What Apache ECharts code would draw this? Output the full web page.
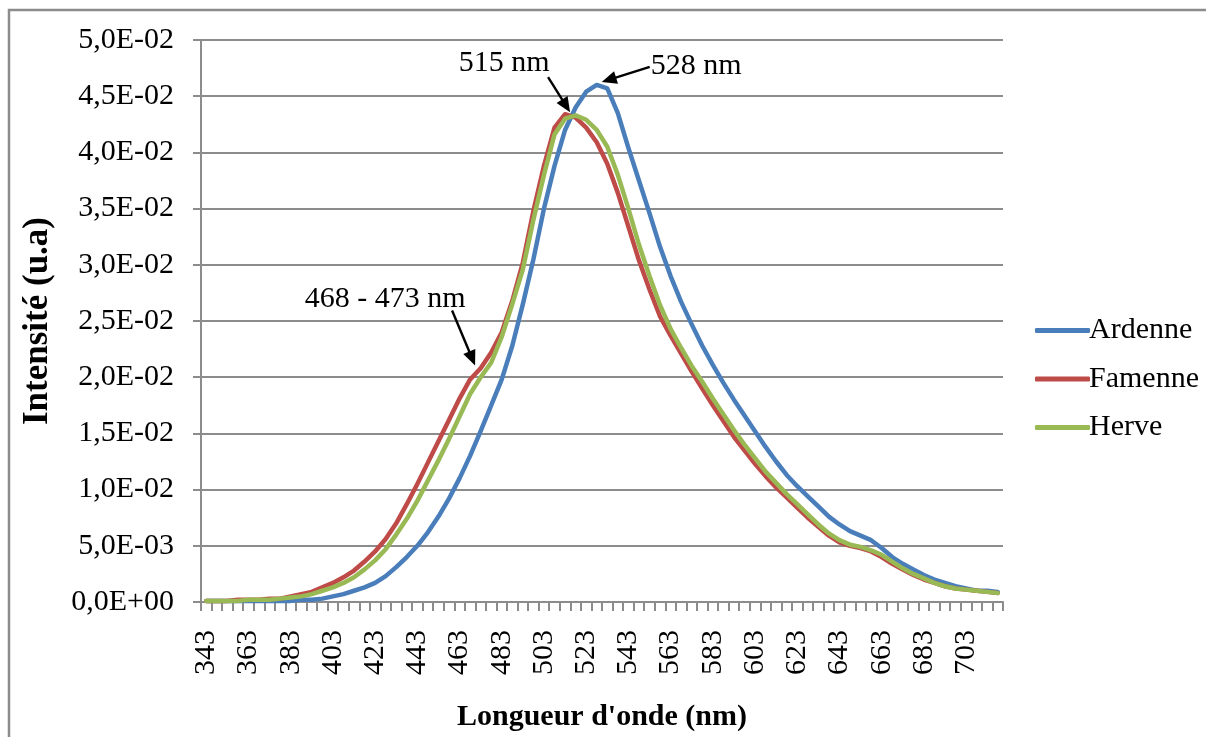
<!DOCTYPE html>
<html>
<head>
<meta charset="utf-8">
<script src="https://cdn.jsdelivr.net/npm/echarts@6/dist/echarts.min.js"></script>
<style>
  html, body { margin: 0; padding: 0; background: #fff; overflow: hidden; }
  #chart { width: 1206px; height: 737px; }
</style>
</head>
<body>
<div id="chart"></div>
<script>
// Wavelengths (nm), one category every 5 nm
const wavelengths = [
  343, 348, 353, 358, 363, 368, 373, 378, 383, 388,
  393, 398, 403, 408, 413, 418, 423, 428, 433, 438,
  443, 448, 453, 458, 463, 468, 473, 478, 483, 488,
  493, 498, 503, 508, 513, 518, 523, 528, 533, 538,
  543, 548, 553, 558, 563, 568, 573, 578, 583, 588,
  593, 598, 603, 608, 613, 618, 623, 628, 633, 638,
  643, 648, 653, 658, 663, 668, 673, 678, 683, 688,
  693, 698, 703, 708, 713, 718
];

const ardenne = [
  0.0001, 0.0001, 0.0001, 0.0001, 0.0001, 0.0001, 0.0001, 0.0001, 0.0001, 0.0002,
  0.0002, 0.0003, 0.0005, 0.0007, 0.0010, 0.0013, 0.0017, 0.0023, 0.0031, 0.0040,
  0.0050, 0.0062, 0.0076, 0.0092, 0.0110, 0.0130, 0.0152, 0.0175, 0.0198, 0.0228,
  0.0265, 0.0305, 0.0350, 0.0388, 0.0420, 0.0440, 0.0454, 0.0460, 0.0457, 0.0435,
  0.0404, 0.0375, 0.0346, 0.0316, 0.0290, 0.0267, 0.0247, 0.0228, 0.0211, 0.0195,
  0.0180, 0.0166, 0.0152, 0.0138, 0.0125, 0.0113, 0.0103, 0.0094, 0.0085, 0.0076,
  0.0069, 0.0063, 0.0059, 0.0055, 0.0048, 0.0040, 0.0034, 0.0029, 0.0024, 0.0020,
  0.0017, 0.0014, 0.0012, 0.0010, 0.0010, 0.0009
];

const famenne = [
  0.0001, 0.0001, 0.0001, 0.0002, 0.0002, 0.0002, 0.0003, 0.0003, 0.0005, 0.0007,
  0.0009, 0.0013, 0.0017, 0.0022, 0.0028, 0.0036, 0.0045, 0.0056, 0.0070, 0.0087,
  0.0105, 0.0124, 0.0143, 0.0162, 0.0181, 0.0198, 0.0208, 0.0222, 0.0240, 0.0268,
  0.0302, 0.0348, 0.0388, 0.0422, 0.0434, 0.0431, 0.0422, 0.0409, 0.0390, 0.0364,
  0.0334, 0.0304, 0.0278, 0.0254, 0.0237, 0.0221, 0.0205, 0.0190, 0.0175, 0.0161,
  0.0147, 0.0135, 0.0123, 0.0112, 0.0102, 0.0093, 0.0084, 0.0075, 0.0067, 0.0059,
  0.0053, 0.0050, 0.0048, 0.0045, 0.0040, 0.0034, 0.0029, 0.0024, 0.0020, 0.0017,
  0.0014, 0.0012, 0.0011, 0.0010, 0.0009, 0.0008
];

const herve = [
  0.0001, 0.0001, 0.0001, 0.0001, 0.0002, 0.0002, 0.0002, 0.0003, 0.0004, 0.0005,
  0.0007, 0.0010, 0.0013, 0.0017, 0.0022, 0.0029, 0.0037, 0.0047, 0.0060, 0.0074,
  0.0090, 0.0108, 0.0126, 0.0145, 0.0165, 0.0185, 0.0200, 0.0213, 0.0236, 0.0265,
  0.0296, 0.0340, 0.0380, 0.0416, 0.0430, 0.0433, 0.0429, 0.0420, 0.0405, 0.0380,
  0.0350, 0.0318, 0.0290, 0.0264, 0.0243, 0.0226, 0.0210, 0.0196, 0.0181, 0.0167,
  0.0153, 0.0140, 0.0128, 0.0116, 0.0106, 0.0096, 0.0087, 0.0078, 0.0069, 0.0061,
  0.0055, 0.0051, 0.0049, 0.0046, 0.0042, 0.0036, 0.0030, 0.0025, 0.0021, 0.0017,
  0.0014, 0.0012, 0.0011, 0.0010, 0.0009, 0.0008
];

const seriesNames = ['Ardenne', 'Famenne', 'Herve'];
const seriesColors = ['#4A7EBB', '#BE4B48', '#98B954'];
const seriesData = [ardenne, famenne, herve];

// Peak annotations: text, series index, category, text offset and arrow tail offset
const annotations = [
  { text: '528 nm', series: 0, category: 528, textAt: [54, -19], tail: [48, -15], tipShift: [5, -3], align: 'left' },
  { text: '515 nm', series: 1, category: 513, textAt: [-61, -51], tail: [-22, -35], tipShift: [5, -2], align: 'center' },
  { text: '468 - 473 nm', series: 1, category: 468, textAt: [-85, -80], tail: [-23, -55], tipShift: [5, -14], align: 'center' }
];

const FONT = '"Liberation Serif", "Times New Roman", serif';

// Scientific notation with a decimal comma: 4,5E-02
function sciComma(v) {
  if (v === 0) return '0,0E+00';
  let e = Math.floor(Math.log10(Math.abs(v)) + 1e-9);
  let m = v / Math.pow(10, e);
  if (Math.round(m * 10) / 10 >= 10) { m /= 10; e += 1; }
  const sign = e < 0 ? '-' : '+';
  const ex = String(Math.abs(e)).padStart(2, '0');
  return m.toFixed(1).replace('.', ',') + 'E' + sign + ex;
}

const chart = echarts.init(document.getElementById('chart'), null, { renderer: 'canvas' });

const option = {
  backgroundColor: '#ffffff',
  animation: false,
  grid: { left: 201, right: 203, top: 40, bottom: 130, containLabel: false },
  legend: {
    orient: 'vertical',
    left: 1030,
    top: 310,
    icon: 'roundRect',
    itemWidth: 55,
    itemHeight: 5,
    itemGap: 17.5,
    data: seriesNames,
    textStyle: { fontFamily: FONT, fontSize: 30, color: '#000', lineHeight: 31, padding: [0, 0, 0, -6] }
  },
  xAxis: {
    type: 'category',
    data: wavelengths.map(String),
    boundaryGap: true,
    name: "Longueur d'onde (nm)",
    nameLocation: 'middle',
    nameGap: 100,
    nameTextStyle: { fontFamily: FONT, fontSize: 30, fontWeight: 'bold', color: '#000' },
    axisLine: { lineStyle: { color: '#8c8c8c', width: 2 } },
    axisTick: { show: true, interval: 0, length: 9, lineStyle: { color: '#8c8c8c', width: 2 } },
    axisLabel: { interval: 3, rotate: 90, margin: 28, fontFamily: FONT, fontSize: 30, color: '#000' },
    splitLine: { show: false }
  },
  yAxis: {
    type: 'value',
    min: 0,
    max: 0.05,
    interval: 0.005,
    name: 'Intensité (u.a)',
    nameLocation: 'middle',
    nameGap: 146,
    nameRotate: 90,
    nameTextStyle: { fontFamily: FONT, fontSize: 35, fontWeight: 'bold', color: '#000' },
    axisLine: { show: true, lineStyle: { color: '#8c8c8c', width: 2 } },
    axisTick: { show: true, length: 8, lineStyle: { color: '#8c8c8c', width: 2 } },
    axisLabel: { margin: 27, fontFamily: FONT, fontSize: 30, color: '#000', formatter: sciComma },
    splitLine: { show: true, lineStyle: { color: '#8c8c8c', width: 2 } }
  },
  series: seriesNames.map((name, i) => ({
    name: name,
    type: 'line',
    data: seriesData[i],
    symbol: 'none',
    smooth: false,
    color: seriesColors[i],
    lineStyle: { color: seriesColors[i], width: 4.5, cap: 'round', join: 'round' },
    z: 2 + i
  }))
};

chart.setOption(option);

// Frame around the chart area
const graphics = [
  { type: 'rect', shape: { x: 9, y: 10, width: 1230, height: 760 }, style: { fill: null, stroke: '#8c8c8c', lineWidth: 2.5 }, z: 0, silent: true }
];

function arrowShapes(tail, tip) {
  const dx = tip[0] - tail[0], dy = tip[1] - tail[1];
  const len = Math.hypot(dx, dy);
  const ux = dx / len, uy = dy / len;
  const headL = 15, headW = 6.5;
  const base = [tip[0] - ux * headL, tip[1] - uy * headL];
  const p1 = [base[0] - uy * headW, base[1] + ux * headW];
  const p2 = [base[0] + uy * headW, base[1] - ux * headW];
  return [
    { type: 'line', shape: { x1: tail[0], y1: tail[1], x2: base[0] + ux * 2, y2: base[1] + uy * 2 }, style: { stroke: '#000', lineWidth: 2.4 }, z: 100, silent: true },
    { type: 'polygon', shape: { points: [tip, p1, p2] }, style: { fill: '#000' }, z: 100, silent: true }
  ];
}

annotations.forEach(a => {
  const idx = wavelengths.indexOf(a.category);
  const value = seriesData[a.series][idx];
  const p = chart.convertToPixel({ xAxisIndex: 0, yAxisIndex: 0 }, [String(a.category), value]);
  const tip = [p[0] + a.tipShift[0], p[1] + a.tipShift[1]];
  const tail = [tip[0] + a.tail[0], tip[1] + a.tail[1]];
  graphics.push(...arrowShapes(tail, tip));
  graphics.push({
    type: 'text',
    x: p[0] + a.textAt[0],
    y: p[1] + a.textAt[1],
    style: { text: a.text, font: '30px ' + FONT, fill: '#000', align: a.align, verticalAlign: 'middle' },
    z: 100,
    silent: true
  });
});

chart.setOption({ graphic: graphics });
</script>
</body>
</html>
